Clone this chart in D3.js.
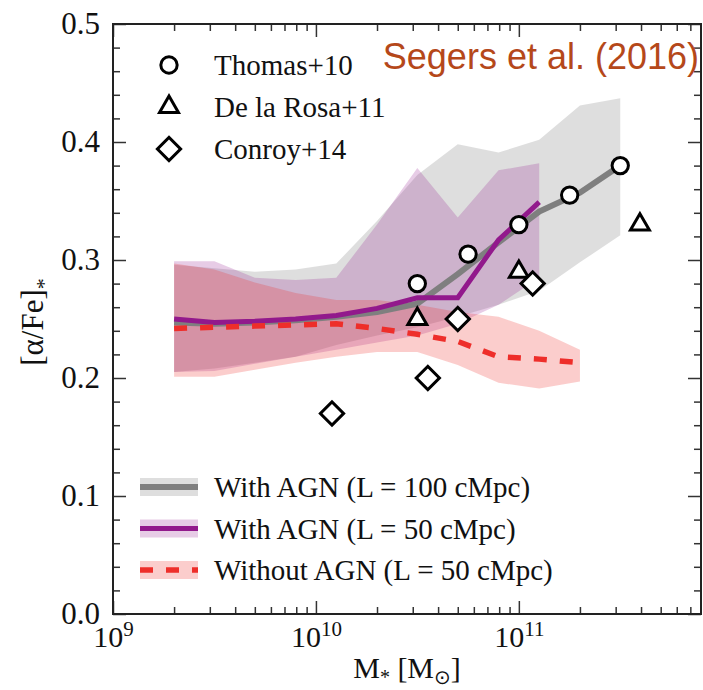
<!DOCTYPE html>
<html>
  <head>
    <meta charset="UTF-8">
    <title>alpha/Fe vs stellar mass</title>
    <script src="https://d3js.org/d3.v7.min.js"></script>
    <style>
      body { margin: 0; background: #fff; }
      text { font-family: "Liberation Serif", "DejaVu Serif", serif; fill: #111; }
    </style>
  </head>
  <body>
    <script>
      // Model mass grid (Msun), 0.2 dex bins
      const massGrid = [2.0e9, 3.16e9, 5.0e9, 7.94e9, 1.26e10, 2.0e10, 3.16e10, 5.0e10, 7.94e10, 1.26e11, 2.0e11, 3.16e11];

      // With AGN, L = 100 cMpc (grey)
      const ref100Med = [0.247, 0.246, 0.247, 0.249, 0.252, 0.256, 0.263, 0.288, 0.315, 0.341, 0.357, 0.380];
      const ref100Lo  = [0.205, 0.208, 0.213, 0.218, 0.228, 0.236, 0.243, 0.252, 0.262, 0.274, 0.298, 0.321];
      const ref100Hi  = [0.296, 0.293, 0.290, 0.292, 0.297, 0.333, 0.372, 0.398, 0.391, 0.402, 0.431, 0.437];

      // With AGN, L = 50 cMpc (purple)
      const ref50Med = [0.250, 0.247, 0.248, 0.250, 0.253, 0.259, 0.268, 0.268, 0.317, 0.349];
      const ref50Lo  = [0.205, 0.206, 0.212, 0.218, 0.224, 0.230, 0.236, 0.246, 0.262, 0.285];
      const ref50Hi  = [0.299, 0.299, 0.285, 0.283, 0.285, 0.330, 0.378, 0.336, 0.376, 0.382];

      // Without AGN, L = 50 cMpc (red)
      const noAgnMed = [0.242, 0.243, 0.244, 0.245, 0.246, 0.242, 0.237, 0.231, 0.218, 0.216, 0.213];
      const noAgnLo  = [0.201, 0.201, 0.207, 0.213, 0.218, 0.222, 0.222, 0.211, 0.196, 0.191, 0.197];
      const noAgnHi  = [0.297, 0.292, 0.281, 0.272, 0.266, 0.266, 0.262, 0.256, 0.252, 0.240, 0.224];

      // Observations
      const thomasMass = [3.16e10, 5.62e10, 1.0e11, 1.78e11, 3.16e11];
      const thomasVal  = [0.280, 0.305, 0.330, 0.355, 0.380];
      const rosaMass = [3.16e10, 1.0e11, 3.95e11];
      const rosaVal  = [0.250, 0.290, 0.330];
      const conroyMass = [1.2e10, 3.56e10, 5.0e10, 1.17e11];
      const conroyVal  = [0.170, 0.200, 0.250, 0.280];

      const obsLabels = ["Thomas+10", "De la Rosa+11", "Conroy+14"];
      const modelLabels = ["With AGN (L = 100 cMpc)", "With AGN (L = 50 cMpc)", "Without AGN (L = 50 cMpc)"];

      const W = 703, H = 690;
      const mLeft = 113, mRight = 701, mTop = 24, mBottom = 614;

      const svg = d3.select("body").append("svg").attr("width", W).attr("height", H);

      const x = d3.scaleLog().domain([1e9, 7.9e11]).range([mLeft, mRight]);
      const y = d3.scaleLinear().domain([0, 0.5]).range([mBottom, mTop]);

      const rows = (lo, med, hi) => med.map((m, i) => ({ m: massGrid[i], lo: lo[i], med: m, hi: hi[i] }));

      const models = [
        { rows: rows(ref100Lo, ref100Med, ref100Hi), line: "#7f7f7f", band: "rgba(128,128,128,0.26)", width: 6, dash: null },
        { rows: rows(ref50Lo, ref50Med, ref50Hi), line: "#92198c", band: "rgba(146,25,140,0.22)", width: 5, dash: null },
        { rows: rows(noAgnLo, noAgnMed, noAgnHi), line: "#ee2e2a", band: "rgba(238,46,42,0.24)", width: 5.5, dash: "13,13" }
      ];

      const area = d3.area().x(d => x(d.m)).y0(d => y(d.lo)).y1(d => y(d.hi));
      const line = d3.line().x(d => x(d.m)).y(d => y(d.med));

      // bands
      svg.append("g").selectAll("path")
        .data(models)
        .join("path")
        .attr("d", d => area(d.rows))
        .attr("fill", d => d.band);

      // medians
      svg.append("g").selectAll("path")
        .data(models)
        .join("path")
        .attr("d", d => line(d.rows))
        .attr("fill", "none")
        .attr("stroke", d => d.line)
        .attr("stroke-width", d => d.width)
        .attr("stroke-dasharray", d => d.dash);

      // markers
      const mk = {
        circle: d3.symbol().type(d3.symbolCircle).size(210)(),
        triangle: d3.symbol().type(d3.symbolTriangle).size(155)(),
        diamond: d3.symbol().type(d3.symbolSquare).size(270)()
      };
      const obs = [
        { mass: thomasMass, val: thomasVal, shape: "circle" },
        { mass: rosaMass, val: rosaVal, shape: "triangle" },
        { mass: conroyMass, val: conroyVal, shape: "diamond" }
      ];
      obs.forEach(o => {
        svg.append("g").selectAll("path")
          .data(o.mass.map((m, i) => [m, o.val[i]]))
          .join("path")
          .attr("d", mk[o.shape])
          .attr("transform", d => `translate(${x(d[0])},${y(d[1])})` + (o.shape === "diamond" ? " rotate(45)" : ""))
          .attr("fill", "#fff")
          .attr("stroke", "#000")
          .attr("stroke-width", 3);
      });

      // axes, ticks inward on all four sides
      const xMajor = [1e9, 1e10, 1e11];
      const xMinor = x.ticks().filter(v => Math.abs(Math.log10(v) - Math.round(Math.log10(v))) > 1e-6);
      const yMajor = y.ticks(5);
      const yMinor = y.ticks(25).filter(v => Math.abs(v * 10 - Math.round(v * 10)) > 1e-6);

      const tickStyle = g => {
        g.select(".domain").remove();
        g.selectAll(".tick line").attr("stroke", "#333").attr("stroke-width", 1.5);
      };

      svg.append("g").attr("transform", `translate(0,${mBottom})`)
        .call(d3.axisBottom(x).tickValues(xMinor).tickSize(-7).tickFormat("")).call(tickStyle);
      svg.append("g").attr("transform", `translate(0,${mTop})`)
        .call(d3.axisTop(x).tickValues(xMinor).tickSize(-7).tickFormat("")).call(tickStyle);
      svg.append("g").attr("transform", `translate(0,${mTop})`)
        .call(d3.axisTop(x).tickValues(xMajor).tickSize(-13).tickFormat("")).call(tickStyle);
      svg.append("g").attr("transform", `translate(${mLeft},0)`)
        .call(d3.axisLeft(y).tickValues(yMinor).tickSize(-7).tickFormat("")).call(tickStyle);
      svg.append("g").attr("transform", `translate(${mRight},0)`)
        .call(d3.axisRight(y).tickValues(yMinor).tickSize(-7).tickFormat("")).call(tickStyle);
      svg.append("g").attr("transform", `translate(${mRight},0)`)
        .call(d3.axisRight(y).tickValues(yMajor).tickSize(-13).tickFormat("")).call(tickStyle);

      const xAxis = svg.append("g").attr("transform", `translate(0,${mBottom})`)
        .call(d3.axisBottom(x).tickValues(xMajor).tickSize(-13).tickPadding(12).tickFormat(""))
        .call(tickStyle);
      xAxis.selectAll(".tick text").each(function(d) {
        const t = d3.select(this)
          .attr("font-family", "Liberation Serif").attr("font-size", 30).attr("fill", "#111");
        t.append("tspan").text("10");
        t.append("tspan").attr("dy", -11).attr("font-size", 21).text(Math.round(Math.log10(d)));
      });

      svg.append("g").attr("transform", `translate(${mLeft},0)`)
        .call(d3.axisLeft(y).tickValues(yMajor).tickSize(-13).tickPadding(13).tickFormat(d3.format(".1f")))
        .call(tickStyle)
        .selectAll(".tick text")
        .attr("font-family", "Liberation Serif").attr("font-size", 31).attr("fill", "#111");

      svg.append("rect")
        .attr("x", mLeft).attr("y", mTop)
        .attr("width", mRight - mLeft).attr("height", mBottom - mTop)
        .attr("fill", "none").attr("stroke", "#222").attr("stroke-width", 2);

      // axis labels
      const xl = svg.append("text").attr("x", 407).attr("y", 678)
        .attr("text-anchor", "middle").attr("font-size", 30);
      xl.append("tspan").text("M");
      xl.append("tspan").attr("font-size", 20).attr("dy", 6).text("*");
      xl.append("tspan").attr("dy", -6).text(" [M");
      xl.append("tspan").attr("font-size", 20).attr("dy", 6).attr("font-family", "DejaVu Sans").text("\u2299");
      xl.append("tspan").attr("dy", -6).text("]");

      const yl = svg.append("text")
        .attr("transform", "translate(43,322) rotate(-90)")
        .attr("text-anchor", "middle").attr("font-size", 31);
      yl.append("tspan").text("[\u03b1/Fe]");
      yl.append("tspan").attr("font-size", 22).attr("dy", 8).text("*");

      // observation legend
      const obsLeg = svg.append("g");
      obs.forEach((o, i) => {
        const cy = 65 + i * 42;
        obsLeg.append("path")
          .attr("d", mk[o.shape])
          .attr("transform", `translate(169,${cy})` + (o.shape === "diamond" ? " rotate(45)" : ""))
          .attr("fill", "#fff").attr("stroke", "#000").attr("stroke-width", 3);
        obsLeg.append("text").attr("x", 214).attr("y", cy + 10)
          .attr("font-size", 29).text(obsLabels[i]);
      });

      // model legend
      const modLeg = svg.append("g");
      models.forEach((m, i) => {
        const cy = 487 + i * 41.5;
        modLeg.append("rect").attr("x", 140).attr("y", cy - 9).attr("width", 58).attr("height", 18).attr("fill", m.band);
        modLeg.append("line").attr("x1", 140).attr("x2", 198).attr("y1", cy).attr("y2", cy)
          .attr("stroke", m.line).attr("stroke-width", m.width).attr("stroke-dasharray", m.dash);
        modLeg.append("text").attr("x", 214).attr("y", cy + 10)
          .attr("font-size", 29).text(modelLabels[i]);
      });

      svg.append("text")
        .attr("x", 699).attr("y", 69)
        .attr("text-anchor", "end")
        .style("font-family", "'Liberation Sans', Arial, sans-serif")
        .style("fill", "#b5481a")
        .attr("font-size", 36)
        .text("Segers et al. (2016)");
    </script>
  </body>
</html>
